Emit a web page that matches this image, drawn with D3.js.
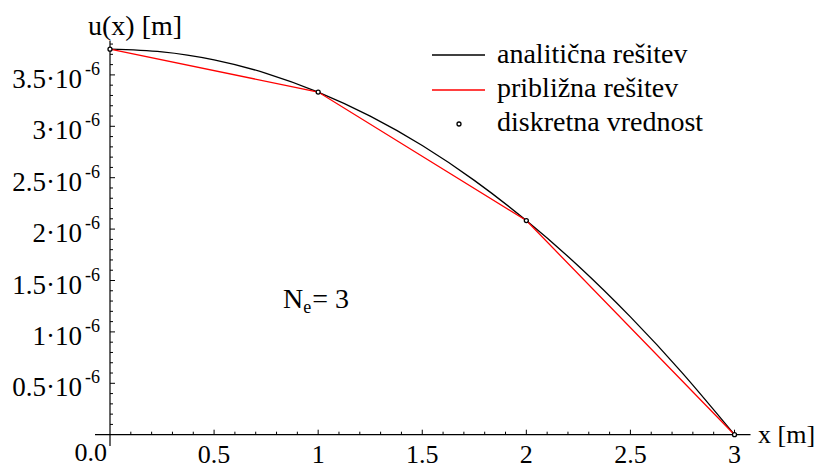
<!DOCTYPE html>
<html>
<head>
<meta charset="utf-8">
<script src="https://cdn.jsdelivr.net/npm/d3@7"></script>
<style>
  svg, svg text, svg tspan { font-family: 'Liberation Serif', Tinos, 'Times New Roman' !important; }
</style>
</head>
<body style="margin:0">
<script>
// values in units of 1e-6 m
var xSamples = [0, 0.25, 0.5, 0.75, 1, 1.25, 1.5, 1.75, 2, 2.25, 2.5, 2.75, 3];
var analytic = [3.75, 3.724, 3.646, 3.516, 3.333, 3.099, 2.813, 2.474, 2.083, 1.641, 1.146, 0.599, 0];

var nodeX = [0, 1, 2, 3];
var nodeU = [3.75, 3.333, 2.083, 0];

var xMajor = [0.5, 1, 1.5, 2, 2.5, 3];
var xLabels = ["0.5", "1", "1.5", "2", "2.5", "3"];
var yMajor = [0.5, 1, 1.5, 2, 2.5, 3, 3.5];
var yLabels = ["0.5·10", "1·10", "1.5·10", "2·10", "2.5·10", "3·10", "3.5·10"];

var legendNames = ["analitična rešitev", "približna rešitev", "diskretna vrednost"];

var width = 819, height = 469;
var serif = "Liberation Serif";
var fs = "28px";

var svg = d3.select("body").append("svg")
    .attr("width", width)
    .attr("height", height)
    .attr("font-family", serif);

var x = d3.scaleLinear().domain([0, 3]).range([110, 734.5]);
var y = d3.scaleLinear().domain([0, 1]).range([434.7, 331.9]);

function txt(sel) {
  return sel.attr("font-family", serif).style("font-family", "'" + serif + "'");
}

// axes lines
svg.append("line")
  .attr("x1", x(-0.072)).attr("x2", x(3.077))
  .attr("y1", y(0)).attr("y2", y(0))
  .style("stroke", "#000").style("stroke-width", 1.2);
svg.append("line")
  .attr("x1", x(0)).attr("x2", x(0))
  .attr("y1", y(-0.11)).attr("y2", y(3.83))
  .style("stroke", "#000").style("stroke-width", 1.2);

// x ticks (pointing up)
var xMinor = d3.range(1, 31).map(function(i) { return i / 10; });
svg.append("g").selectAll("line")
  .data(xMinor)
  .enter().append("line")
  .attr("x1", function(d) { return x(d); })
  .attr("x2", function(d) { return x(d); })
  .attr("y1", y(0))
  .attr("y2", function(d, i) { return (i + 1) % 5 == 0 ? y(0) - 5 : y(0) - 3; })
  .style("stroke", "#000").style("stroke-width", 1);

txt(svg.append("g").selectAll("text")
  .data(xMajor)
  .enter().append("text"))
  .attr("x", function(d) { return x(d); })
  .attr("y", 463)
  .attr("text-anchor", "middle")
  .style("font-size", "26px")
  .text(function(d, i) { return xLabels[i]; });

txt(svg.append("text"))
  .attr("x", 107).attr("y", 461)
  .attr("text-anchor", "end")
  .style("font-size", "26px")
  .text("0.0");

// y ticks (pointing right)
var yMinor = d3.range(1, 39).map(function(i) { return i / 10; });
svg.append("g").selectAll("line")
  .data(yMinor)
  .enter().append("line")
  .attr("y1", function(d) { return y(d); })
  .attr("y2", function(d) { return y(d); })
  .attr("x1", x(0))
  .attr("x2", function(d, i) { return (i + 1) % 5 == 0 ? x(0) + 5 : x(0) + 3; })
  .style("stroke", "#000").style("stroke-width", 1);

var yl = txt(svg.append("g").selectAll("text")
  .data(yMajor)
  .enter().append("text"))
  .attr("x", 100)
  .attr("y", function(d) { return y(d) + 13; })
  .attr("text-anchor", "end")
  .style("font-size", "27px");
yl.append("tspan").text(function(d, i) { return yLabels[i]; });
yl.append("tspan")
  .attr("dx", 3)
  .attr("dy", -13)
  .style("font-size", "18px")
  .text("-6");

// axis titles
txt(svg.append("text"))
  .attr("x", 88).attr("y", 35)
  .style("font-size", fs)
  .text("u(x) [m]");
txt(svg.append("text"))
  .attr("x", 758).attr("y", 443)
  .style("font-size", "26px")
  .text("x [m]");

// curves
var analyticData = xSamples.map(function(d, i) { return [d, analytic[i]]; });
var nodeData = nodeX.map(function(d, i) { return [d, nodeU[i]]; });

var line = d3.line()
  .x(function(d) { return x(d[0]); })
  .y(function(d) { return y(d[1]); });

svg.append("path")
  .datum(analyticData)
  .attr("d", line.curve(d3.curveNatural))
  .style("fill", "none").style("stroke", "#000").style("stroke-width", 1.3);

svg.append("path")
  .datum(nodeData)
  .attr("d", d3.line()
    .x(function(d) { return x(d[0]); })
    .y(function(d) { return y(d[1]); }))
  .style("fill", "none").style("stroke", "#f00").style("stroke-width", 1.3);

svg.append("g").selectAll("circle")
  .data(nodeData)
  .enter().append("circle")
  .attr("cx", function(d) { return x(d[0]); })
  .attr("cy", function(d) { return y(d[1]); })
  .attr("r", 2)
  .style("fill", "#fff").style("stroke", "#000").style("stroke-width", 1.3);

// legend
var legend = svg.append("g");
legend.append("line")
  .attr("x1", 432).attr("x2", 485).attr("y1", 55).attr("y2", 55)
  .style("stroke", "#000").style("stroke-width", 1.3);
legend.append("line")
  .attr("x1", 432).attr("x2", 485).attr("y1", 90).attr("y2", 90)
  .style("stroke", "#f00").style("stroke-width", 1.3);
legend.append("circle")
  .attr("cx", 459).attr("cy", 124).attr("r", 2)
  .style("fill", "#fff").style("stroke", "#000").style("stroke-width", 1.3);
txt(legend.selectAll("text")
  .data(legendNames)
  .enter().append("text"))
  .attr("x", 497)
  .attr("y", function(d, i) { return 63 + i * 34; })
  .style("font-size", fs)
  .text(function(d) { return d; });

// annotation
var ann = txt(svg.append("text"))
  .attr("x", 283).attr("y", 308)
  .style("font-size", fs);
ann.append("tspan").text("N");
ann.append("tspan").attr("dy", 5).style("font-size", "18px").text("e");
ann.append("tspan").attr("dy", -5).attr("dx", 1).text("= 3");
</script>
</body>
</html>
